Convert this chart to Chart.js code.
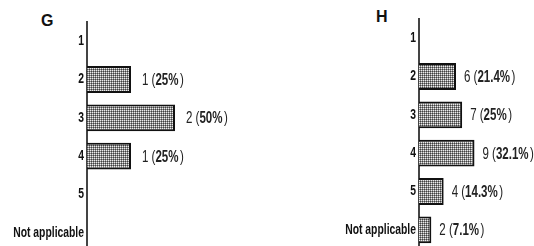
<!DOCTYPE html>
<html>
<head>
<meta charset="utf-8">
<script src="https://cdn.jsdelivr.net/npm/chart.js@4.4.0/dist/chart.umd.min.js"></script>
<style>
  html, body { margin: 0; padding: 0; background: #fff; }
  body { width: 534px; height: 246px; overflow: hidden; position: relative; }
  canvas { position: absolute; top: 0; }
  .tag { position: absolute; font: bold 16px/16px 'Liberation Sans', Arial, sans-serif; color: #111; }
</style>
</head>
<body>
<div class="tag" style="left:41px;top:13px">G</div>
<div class="tag" style="left:376px;top:9px">H</div>
<canvas id="chartG" width="267" height="252" style="left:0"></canvas>
<canvas id="chartH" width="267" height="249" style="left:267px"></canvas>
<script>
// answers (same categories in both panels)
const categories = ['1', '2', '3', '4', '5', 'Not applicable'];
const countsG = [0, 1, 2, 1, 0, 0];
const pctG = ['', '25', '50', '25', '', ''];
const countsH = [0, 6, 7, 9, 4, 2];
const pctH = ['', '21.4', '25', '32.1', '14.3', '7.1'];

const sans = '"Liberation Sans", Arial, sans-serif';
// no condensed font installed, so squeeze Liberation Sans sideways
const TICK_SQUEEZE = 0.74;
const LABEL_SQUEEZE = 0.72;

function narrowText(ctx, text, x, y, squeeze) {
  ctx.save();
  ctx.translate(x, y);
  ctx.scale(squeeze, 1);
  ctx.fillText(text, 0, 0);
  ctx.restore();
  return ctx.measureText(text).width * squeeze;
}

// fine screen-tone fill like the printed figure
function dotPattern() {
  var c = document.createElement('canvas');
  c.width = 2; c.height = 2;
  var g = c.getContext('2d');
  g.fillStyle = '#ececec'; g.fillRect(0, 0, 1, 1);
  g.fillStyle = '#8a8a8a'; g.fillRect(1, 0, 1, 1); g.fillRect(0, 1, 1, 1);
  g.fillStyle = '#404040'; g.fillRect(1, 1, 1, 1);
  return g.createPattern(c, 'repeat');
}

// category names on the y axis, drawn narrow
const narrowTicks = {
  id: 'narrowTicks',
  afterDraw(chart) {
    var ctx = chart.ctx, y = chart.scales.y;
    ctx.save();
    ctx.fillStyle = '#111';
    ctx.font = 'bold 14px ' + sans;
    ctx.textAlign = 'right';
    ctx.textBaseline = 'middle';
    y.ticks.forEach(function(t, i) {
      narrowText(ctx, y.getLabelForValue(t.value), y.right - 3, y.getPixelForTick(i), TICK_SQUEEZE);
    });
    ctx.restore();
  }
};

// "n (pct%)" next to each bar, percentage in bold
const countLabels = {
  id: 'countLabels',
  afterDatasetsDraw(chart, args, opts) {
    var ctx = chart.ctx;
    var vals = chart.data.datasets[0].data;
    ctx.save();
    ctx.fillStyle = '#222';
    ctx.textBaseline = 'middle';
    chart.getDatasetMeta(0).data.forEach(function(bar, i) {
      if (!vals[i]) return;
      var x = bar.x + opts.offset;
      var parts = [[vals[i] + ' (', false], [opts.pct[i] + '%', true], [')', false]];
      parts.forEach(function(p, k) {
        ctx.font = (p[1] ? 'bold ' : '') + '16px ' + sans;
        if (k === 2) x += 1.5;
        x += narrowText(ctx, p[0], x, bar.y + 1, LABEL_SQUEEZE);
      });
    });
    ctx.restore();
  }
};

function makeChart(id, counts, pct, max, axisWidth, top, offset) {
  return new Chart(document.getElementById(id), {
    type: 'bar',
    data: {
      labels: categories,
      datasets: [{
        data: counts,
        backgroundColor: dotPattern(),
        borderColor: '#111',
        borderWidth: 2,
        borderSkipped: 'start',
        barPercentage: 0.7,
        categoryPercentage: 1
      }]
    },
    options: {
      indexAxis: 'y',
      responsive: false,
      animation: false,
      layout: { padding: { top: top, right: 4, bottom: 0, left: 0 } },
      plugins: {
        legend: { display: false },
        tooltip: { enabled: false },
        countLabels: { pct: pct, offset: offset }
      },
      scales: {
        x: { display: false, min: 0, max: max },
        y: {
          afterFit: function(s) { s.width = axisWidth; },
          grid: { display: false, drawTicks: false },
          border: { display: true, color: '#444', width: 2 },
          ticks: { display: false }
        }
      }
    },
    plugins: [countLabels, narrowTicks]
  });
}

makeChart('chartG', countsG, pctG, 4, 87, 22, 11);
makeChart('chartH', countsH, pctH, 18, 152, 19, 8);
</script>
</body>
</html>
